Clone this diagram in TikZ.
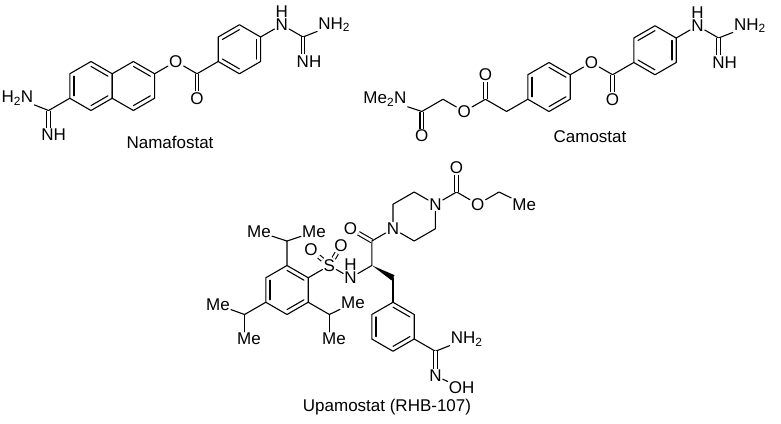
\documentclass[tikz,border=0pt]{standalone}
\usepackage{fontspec}
\setmainfont{Liberation Sans}
\usepackage{tikz}
\usetikzlibrary{calc}

\tikzset{
  bond/.style={line width=1.1pt, line cap=round, line join=round},
  dbl/.style={bond, double, double distance=2.6pt, line cap=butt},
  atom/.style={inner sep=1pt, font=\fontsize{17}{18}\selectfont},
  hatom/.style={atom, inner sep=0pt, label distance=0pt},
  caption/.style={font=\fontsize{17}{19}\selectfont}
}

% bond geometry
\def\bl{24.5}
\def\hh{21.2}
\def\hl{12.25}

% hexagon with vertices #11..#16 (top, ur, dr, bottom, dl, ul)
\newcommand{\hexring}[2]{
  \coordinate (#1c) at #2;
  \coordinate (#11) at ($(#1c)+(0,-\bl)$);
  \coordinate (#12) at ($(#1c)+(\hh,-\hl)$);
  \coordinate (#13) at ($(#1c)+(\hh,\hl)$);
  \coordinate (#14) at ($(#1c)+(0,\bl)$);
  \coordinate (#15) at ($(#1c)+(-\hh,\hl)$);
  \coordinate (#16) at ($(#1c)+(-\hh,-\hl)$);
  \draw[bond] (#11) -- (#12) -- (#13) -- (#14) -- (#15) -- (#16) -- cycle;
}
% inner line of an aromatic double bond
\newcommand{\innerbond}[3]{
  \draw[bond] ($(#1)!.2!(#3)$) -- ($(#2)!.2!(#3)$);
}

\begin{document}
\begin{tikzpicture}[x=1pt, y=-1pt]
  \useasboundingbox (0,0) rectangle (781,423);

  % Namafostat
  \hexring{na}{(91,86)}
  \hexring{nb}{(133.4,86)}
  \innerbond{na6}{na5}{nac}
  \innerbond{na1}{na2}{nac}
  \innerbond{na3}{na4}{nac}
  \innerbond{nb1}{nb2}{nbc}
  \innerbond{nb3}{nb4}{nbc}
  \coordinate (amc) at ($(na5)+(-\hh,\hl)$);
  \node[atom, anchor=east] (amnh2) at ($(amc)+(-\hh+7,-\hl)$) {H\textsubscript{2}N};
  \node[atom] (amnh) at ($(amc)+(5,\bl)$) {NH};
  \draw[bond] (na5) -- (amc) -- (amnh2);
  \draw[dbl] (amc) -- (amc |- amnh.north);
  \node[atom] (nao) at ($(nb2)+(\hh,-\hl)$) {O};
  \coordinate (nacc) at ($(nao)+(\hh,\hl)$);
  \node[atom] (nacco) at ($(nacc)+(0,\bl)$) {O};
  \hexring{nr}{($(nacc)+(2*\hh,-2*\hl)$)}
  \innerbond{nr6}{nr1}{nrc}
  \innerbond{nr2}{nr3}{nrc}
  \innerbond{nr5}{nr4}{nrc}
  \draw[bond] (nb2) -- (nao) -- (nacc) -- (nr5);
  \draw[dbl] (nacc) -- (nacco);
  \node[atom, label={[hatom]above:H}] (ngn) at ($(nr2)+(\hh,-\hl)$) {N};
  \coordinate (ngc) at ($(ngn)+(\hh,\hl)$);
  \node[atom, anchor=west] (ngnh2) at ($(ngc)+(\hh-7,-\hl)$) {NH\textsubscript{2}};
  \node[atom] (ngnh) at ($(ngc)+(6,\bl)$) {NH};
  \draw[bond] (nr2) -- (ngn) -- (ngc) -- (ngnh2);
  \draw[dbl] (ngc) -- (ngc |- ngnh.north);
  \node[caption] (namafostat) at (170,142) {Namafostat};

  % Camostat
  \hexring{cp}{(549,87)}
  \innerbond{cp6}{cp5}{cpc}
  \innerbond{cp1}{cp2}{cpc}
  \innerbond{cp3}{cp4}{cpc}
  \coordinate (cch2) at ($(cp5)+(-\hh,\hl)$);
  \coordinate (ccc) at ($(cch2)+(-\hh,-\hl)$);
  \node[atom] (ccco) at ($(ccc)+(0,-\bl)$) {O};
  \node[atom] (cco) at ($(ccc)+(-\hh,\hl)$) {O};
  \coordinate (cch2b) at ($(cco)+(-\hh,-\hl)$);
  \coordinate (cac) at ($(cch2b)+(-\hh,\hl)$);
  \node[atom] (caco) at ($(cac)+(0,\bl)$) {O};
  \node[atom, anchor=east] (cme2n) at ($(cac)+(-\hh+7,-\hl)$) {Me\textsubscript{2}N};
  \draw[bond] (cp5) -- (cch2) -- (ccc) -- (cco) -- (cch2b) -- (cac) -- (cme2n);
  \draw[dbl] (ccc) -- (ccco);
  \draw[dbl] (cac) -- (caco);
  \node[atom] (cpo) at ($(cp2)+(\hh,-\hl)$) {O};
  \coordinate (cbc) at ($(cpo)+(\hh,\hl)$);
  \node[atom] (cbco) at ($(cbc)+(0,\bl)$) {O};
  \hexring{cr}{($(cbc)+(2*\hh,-2*\hl)$)}
  \innerbond{cr6}{cr1}{crc}
  \innerbond{cr2}{cr3}{crc}
  \innerbond{cr5}{cr4}{crc}
  \draw[bond] (cp2) -- (cpo) -- (cbc) -- (cr5);
  \draw[dbl] (cbc) -- (cbco);
  \node[atom, label={[hatom]above:H}] (cgn) at ($(cr2)+(\hh,-\hl)$) {N};
  \coordinate (cgc) at ($(cgn)+(\hh,\hl)$);
  \node[atom, anchor=west] (cgnh2) at ($(cgc)+(\hh-7,-\hl)$) {NH\textsubscript{2}};
  \node[atom] (cgnh) at ($(cgc)+(6,\bl)$) {NH};
  \draw[bond] (cr2) -- (cgn) -- (cgc) -- (cgnh2);
  \draw[dbl] (cgc) -- (cgc |- cgnh.north);
  \node[caption] (camostat) at (590,137) {Camostat};

  % Upamostat: aryl sulfonyl part
  \hexring{ua}{(287,290)}
  \innerbond{ua6}{ua5}{uac}
  \innerbond{ua1}{ua2}{uac}
  \innerbond{ua3}{ua4}{uac}
  \coordinate (ut) at ($(ua1)+(0,-\bl)$);
  \node[atom] (utme1) at (259,232) {Me};
  \node[atom] (utme2) at (314,232) {Me};
  \draw[bond] (ua1) -- (ut) -- (utme1);
  \draw[bond] (ut) -- (utme2);
  \coordinate (ul) at ($(ua5)+(-\hh,\hl)$);
  \node[atom] (ulme1) at (218,305) {Me};
  \node[atom] (ulme2) at (249,339) {Me};
  \draw[bond] (ua5) -- (ul) -- (ulme1);
  \draw[bond] (ul) -- (ul |- ulme2.north);
  \coordinate (ur) at ($(ua3)+(\hh,\hl)$);
  \node[atom] (urme1) at (353,303) {Me};
  \node[atom] (urme2) at (334,339) {Me};
  \draw[bond] (ua3) -- (ur) -- (urme1);
  \draw[bond] (ur) -- (ur |- urme2.north);
  \node[atom] (us) at ($(ua2)+(\hh,-\hl)$) {S};
  \node[atom] (uso1) at (311,250) {O};
  \node[atom] (uso2) at (341,246) {O};
  \draw[bond] (ua2) -- (us);
  \draw[dbl] (us) -- (uso1);
  \draw[dbl] (us) -- (uso2);
  \node[atom, label={[hatom]above:H}] (unh) at ($(us)+(\hh,\hl)$) {N};
  \draw[bond] (us) -- (unh);

  % Upamostat: amino acid and piperazine
  \coordinate (uca) at ($(unh)+(\hh,-\hl)$);
  \coordinate (ucam) at ($(uca)+(0,-\bl)$);
  \node[atom] (ucamo) at ($(ucam)+(-\hh,-\hl)$) {O};
  \draw[bond] (unh) -- (uca) -- (ucam);
  \draw[dbl] (ucam) -- (ucamo);
  \node[atom] (upn1) at ($(ucam)+(\hh,-\hl)$) {N};
  \coordinate (upc) at ($(upn1)+(\hh,-\hl)$);
  \coordinate (up1) at ($(upc)+(0,-\bl)$);
  \coordinate (up6) at ($(upc)+(-\hh,-\hl)$);
  \node[atom] (upn4) at ($(upc)+(\hh,-\hl)$) {N};
  \coordinate (up3) at ($(upc)+(\hh,\hl)$);
  \coordinate (up4) at ($(upc)+(0,\bl)$);
  \draw[bond] (ucam) -- (upn1) -- (up6) -- (up1) -- (upn4) -- (up3) -- (up4) -- (upn1);
  \coordinate (ucb) at ($(upn4)+(\hh,-\hl)$);
  \node[atom] (ucbo) at ($(ucb)+(0,-\bl)$) {O};
  \node[atom] (uoe) at ($(ucb)+(\hh,\hl)$) {O};
  \coordinate (uch2) at ($(uoe)+(\hh,-\hl)$);
  \node[atom] (ume) at ($(uch2)+(\hh+4,\hl)$) {Me};
  \draw[bond] (upn4) -- (ucb) -- (uoe) -- (uch2) -- (ume);
  \draw[dbl] (ucb) -- (ucbo);

  % Upamostat: benzamidoxime
  \coordinate (ubn) at ($(uca)+(\hh,\hl)$);
  \fill ($(uca)+(0.3,0)$) -- ($(ubn)!3pt!90:(uca)$) -- ($(ubn)!3pt!-90:(uca)$) -- cycle;
  \hexring{ub}{($(ubn)+(0,2*\bl)$)}
  \innerbond{ub6}{ub5}{ubc}
  \innerbond{ub1}{ub2}{ubc}
  \innerbond{ub3}{ub4}{ubc}
  \draw[bond] (ubn) -- (ub1);
  \coordinate (uamc) at ($(ub3)+(\hh,\hl)$);
  \node[atom, anchor=west] (uamnh2) at ($(uamc)+(\hh-7,-\hl)$) {NH\textsubscript{2}};
  \node[atom] (uamn) at ($(uamc)+(0,\bl)$) {N};
  \node[atom] (uoh) at ($(uamn)+(\hh+5,\hl)$) {OH};
  \draw[bond] (ub3) -- (uamc) -- (uamnh2);
  \draw[dbl] (uamc) -- (uamn);
  \draw[bond] (uamn) -- (uoh);
  \node[caption] (upamostat) at (387,407) {Upamostat (RHB-107)};
\end{tikzpicture}
\end{document}
